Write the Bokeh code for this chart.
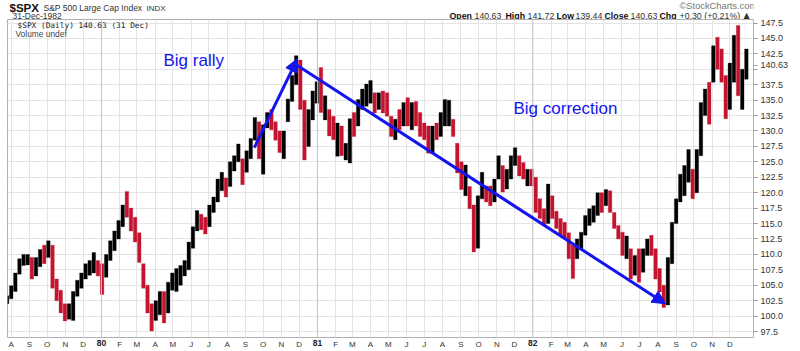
import pandas as pd
from bokeh.plotting import figure
from bokeh.layouts import column
from bokeh.models import (ColumnDataSource, Range1d, FixedTicker, Label, Arrow, NormalHead, Span,
                          DatetimeAxis)
from bokeh.embed import file_html
from bokeh.resources import INLINE

# ---- weekly OHLC (weeks ending Friday) ----
first_week = "1979-07-27"
last_week = "1982-12-31"

high_79 = [103.3, 104.9, 107.0, 109.3, 110.0, 110.0, 109.5, 109.5, 110.8, 111.5, 112.2, 111.5,
           106.0, 104.2, 102.0, 102.0, 104.0, 105.8, 107.0, 108.5, 109.0, 110.3, 109.0]
low_79 = [102.0, 102.8, 104.0, 106.8, 108.2, 108.3, 106.0, 106.5, 108.0, 108.5, 109.5, 104.5,
          102.5, 100.5, 99.2, 99.5, 99.3, 103.2, 104.5, 106.0, 106.6, 107.0, 106.5]
close_79 = [103.0, 104.5, 106.6, 108.7, 109.3, 109.4, 106.8, 109.0, 109.8, 109.5, 111.5, 105.5,
            103.0, 101.3, 100.5, 100.8, 103.5, 105.0, 106.5, 107.5, 108.0, 108.2, 107.5]

high_80 = [108.5, 110.0, 112.2, 113.8, 115.5, 118.0, 120.2, 117.5, 116.0, 113.5, 108.5, 105.0, 102.0,
           102.5, 104.0, 104.0, 105.5, 107.0, 107.7, 108.2, 109.0, 112.0, 114.5, 117.1, 116.5, 116.0,
           118.0, 119.3, 122.2, 123.3, 122.4, 125.0, 126.0, 127.9, 125.5, 126.8, 128.8, 132.2, 131.5,
           131.0, 133.0, 133.5, 131.5, 130.0, 130.0, 135.2, 139.0, 142.2, 141.5, 135.0, 133.5, 136.5]
low_80 = [103.5, 106.3, 109.0, 110.6, 112.5, 114.5, 116.0, 113.8, 112.0, 108.7, 104.5, 100.5, 97.6,
          99.3, 100.2, 98.9, 100.5, 104.2, 104.0, 105.0, 106.5, 107.5, 111.0, 113.8, 114.0, 113.3,
          114.5, 116.8, 118.5, 120.3, 119.3, 121.0, 123.5, 125.0, 121.3, 123.3, 125.5, 128.5, 125.5,
          123.0, 130.5, 130.2, 128.5, 126.5, 125.5, 131.5, 134.8, 137.5, 133.5, 125.3, 127.5, 131.8]
close_80 = [106.5, 109.9, 111.5, 113.5, 115.0, 117.5, 116.8, 115.0, 113.0, 109.5, 106.0, 101.5, 100.5,
            101.8, 102.5, 99.5, 105.0, 106.0, 106.5, 107.5, 108.5, 111.5, 113.8, 116.5, 115.5, 114.2,
            117.5, 118.5, 121.8, 122.0, 120.5, 124.5, 125.5, 126.5, 122.5, 126.0, 128.0, 131.0, 126.0,
            130.5, 132.5, 131.5, 129.5, 127.5, 129.0, 134.5, 138.0, 141.0, 134.0, 127.5, 133.0, 135.5]

high_81 = [138.0, 140.3, 135.7, 133.5, 132.4, 131.3, 130.8, 128.0, 132.0, 133.0, 135.1, 136.8, 137.6,
           138.2, 136.2, 136.2, 136.5, 136.2, 132.4, 131.9, 133.5, 134.6, 135.4, 134.6, 134.8, 133.0,
           131.3, 130.8, 130.8, 131.3, 133.0, 135.1, 135.0, 131.9, 128.0, 125.0, 124.5, 121.0, 118.0,
           119.5, 123.3, 121.1, 121.1, 122.2, 126.0, 124.4, 123.8, 126.0, 127.3, 126.0, 124.9, 123.8]
low_81 = [134.5, 133.0, 131.8, 129.2, 128.6, 125.9, 126.0, 125.3, 124.8, 129.1, 130.8, 133.5, 134.0,
          134.5, 132.9, 133.5, 132.9, 132.4, 129.1, 128.6, 130.2, 130.8, 130.8, 130.2, 130.8, 129.1,
          128.6, 126.4, 126.4, 128.6, 129.1, 130.8, 130.8, 129.1, 123.2, 120.5, 119.5, 117.4, 110.4,
          111.0, 119.0, 118.5, 117.9, 118.5, 122.2, 120.1, 120.6, 122.2, 124.4, 122.7, 122.2, 121.1]
close_81 = [136.5, 134.0, 134.5, 130.5, 129.5, 130.5, 127.0, 127.0, 131.5, 130.5, 134.0, 136.0, 136.5,
            136.5, 134.0, 135.5, 135.0, 133.0, 130.0, 131.5, 131.0, 133.0, 132.0, 133.5, 132.5, 131.0,
            129.5, 128.5, 130.0, 129.5, 131.5, 132.5, 133.5, 130.0, 124.5, 121.5, 121.5, 117.8, 113.0,
            119.0, 121.5, 119.5, 118.5, 122.0, 124.5, 121.0, 122.5, 125.5, 126.0, 123.5, 123.0, 123.0]

high_82 = [123.8, 122.5, 119.0, 117.4, 121.4, 119.5, 117.0, 115.8, 115.2, 113.5, 111.5, 112.5, 113.6,
           116.3, 117.4, 117.9, 120.0, 120.0, 120.5, 120.3, 116.8, 114.7, 113.6, 113.0, 110.9, 109.8,
           110.9, 110.9, 112.5, 113.1, 110.9, 107.7, 105.0, 109.5, 115.2, 119.0, 123.0, 124.4, 127.0,
           123.8, 127.0, 134.6, 136.8, 137.9, 143.8, 145.2, 143.3, 139.0, 141.0, 145.5, 147.1, 140.0, 143.3]
low_82 = [121.1, 116.8, 115.8, 114.7, 115.0, 115.8, 114.2, 113.1, 112.5, 109.3, 106.1, 109.3, 110.9,
          113.1, 114.7, 115.2, 116.3, 116.8, 117.9, 116.8, 114.2, 112.5, 109.8, 109.3, 106.0, 106.6,
          105.5, 107.1, 109.8, 109.8, 106.0, 103.9, 101.4, 101.8, 108.5, 115.0, 118.5, 119.5, 121.7,
          119.0, 120.0, 126.0, 132.5, 131.1, 137.9, 140.0, 137.9, 132.0, 133.5, 137.9, 135.7, 133.5, 138.4]
close_82 = [122.5, 118.0, 116.5, 115.5, 120.5, 117.0, 114.5, 114.0, 113.5, 110.0, 108.5, 111.0, 112.5,
            115.5, 116.0, 116.8, 119.5, 117.0, 119.5, 118.0, 114.8, 113.0, 110.5, 111.5, 107.5, 109.0,
            107.0, 110.5, 111.5, 111.0, 107.5, 104.0, 102.5, 109.0, 114.0, 118.5, 121.0, 123.0, 123.5,
            121.0, 126.5, 133.0, 135.5, 134.0, 142.0, 141.0, 139.0, 134.0, 138.5, 143.0, 137.0, 138.5, 140.63]

high = high_79 + high_80 + high_81 + high_82
low = low_79 + low_80 + low_81 + low_82
close = close_79 + close_80 + close_81 + close_82

# axis labels
month_letters = ["J", "F", "M", "A", "M", "J", "J", "A", "S", "O", "N", "D"]
year_labels = {1980: "80", 1981: "81", 1982: "82"}
price_ticks = [97.5, 100.0, 102.5, 105.0, 107.5, 110.0, 112.5, 115.0, 117.5, 120.0, 122.5, 125.0,
               127.5, 130.0, 132.5, 135.0, 137.5, 140.0, 142.5, 145.0, 147.5]
last_close = 140.63

# annotation anchors (date, price)
rally_start = ("1980-09-16", 127.3)
rally_top = ("1980-11-28", 141.7)
corr_start = ("1980-11-28", 140.6)
corr_end = ("1982-08-14", 102.0)

BLUE = "#1414ee"
RED = "#c41430"


def ms(d):
    return pd.Timestamp(d).value // 10**6


weeks = pd.date_range(first_week, last_week, freq="W-FRI")
n = min(len(weeks), len(high), len(low), len(close))
xs = [ms(w - pd.Timedelta(days=2)) for w in weeks[:n]]
colors = []
prev = None
for c in close[:n]:
    colors.append("#000000" if (prev is None or c >= prev) else RED)
    prev = c

src = ColumnDataSource(dict(x=xs, high=high[:n], low=low[:n], color=colors))

HEAD_H = 19
FL, FB = 7, 337  # frame left / bottom in page px

# ---------------- header strip ----------------
head = figure(width=800, height=HEAD_H, output_backend="svg", toolbar_location=None,
              x_range=Range1d(0, 800), y_range=Range1d(0, HEAD_H),
              x_axis_location=None, y_axis_location=None,
              min_border_left=0, min_border_right=0, min_border_top=0, min_border_bottom=0)
head.outline_line_color = None
head.grid.visible = False
head.background_fill_color = "white"
head.border_fill_color = "white"


def hlab(text, cx, cy, size, bold=False, color="#333333", font="Liberation Sans"):
    head.add_layout(Label(x=cx, y=HEAD_H - cy, x_units="screen", y_units="screen", text=text,
                          text_font=font, text_font_size=f"{size}px",
                          text_font_style="bold" if bold else "normal", text_color=color,
                          text_align="left", text_baseline="middle"))


hlab("$SPX", 2, 7, 11.5, bold=True, color="#111111")
hlab("S&P 500 Large Cap Index", 36, 7.5, 8.5)
hlab("INDX", 139, 7.5, 8)
hlab("31-Dec-1982", 5, 15, 8.5)
hlab("\u00a9StockCharts.com", 672, 5, 9.3, color="#777777")
for t, x0, b in [("Open", 442, True), ("140.63", 467, False), ("High", 498, True), ("141.72", 520, False),
                 ("Low", 549, True), ("139.44", 568, False), ("Close", 597, True), ("140.63", 623, False),
                 ("Chg", 652, True), ("+0.30 (+0.21%)", 672, False)]:
    hlab(t, x0, 15, 8.8, bold=b, color="#111111" if b else "#333333")
hlab("\u25b2", 736, 14.5, 8, font="DejaVu Sans")

# ---------------- main chart ----------------
p = figure(width=800, height=351 - HEAD_H, output_backend="svg", toolbar_location=None,
           x_axis_type="datetime", y_axis_location="right",
           x_range=Range1d(ms("1979-07-25 17:00"), ms("1983-01-10 02:00")),
           y_range=Range1d(96.53, 148.07),
           min_border_left=FL, min_border_right=47, min_border_top=0, min_border_bottom=14)
p.background_fill_color = "white"
p.border_fill_color = "white"
p.outline_line_color = "#b0b0b0"

month_starts = pd.date_range("1979-08-01", "1982-12-01", freq="MS")
mticks = [ms(d) for d in month_starts]
overrides = {}
for d, t in zip(month_starts, mticks):
    overrides[t] = "" if d.month == 1 else month_letters[d.month - 1]

xa = p.xaxis[0]
xa.ticker = FixedTicker(ticks=mticks)
xa.major_label_overrides = overrides
xa.axis_line_color = None
xa.major_tick_out = 0
xa.major_tick_in = 0
xa.major_tick_line_color = None
xa.minor_tick_line_color = None
xa.major_label_standoff = 2
xa.major_label_text_font = "Liberation Sans"
xa.major_label_text_font_size = "8px"
xa.major_label_text_color = "#333333"

# bold year labels on a second axis, pulled up onto the month-label row
yticks_ms = [ms(f"{yr}-01-01") for yr in year_labels]
year_axis = DatetimeAxis(ticker=FixedTicker(ticks=yticks_ms),
                         major_label_overrides={t: year_labels[yr] for t, yr in zip(yticks_ms, year_labels)},
                         axis_line_color=None, major_tick_line_color=None, minor_tick_line_color=None,
                         major_tick_out=0, major_tick_in=0, major_label_standoff=-12,
                         major_label_text_font="Liberation Sans", major_label_text_font_size="8.5px",
                         major_label_text_font_style="bold", major_label_text_color="#222222")
p.add_layout(year_axis, "below")

ya = p.yaxis[0]
ya.ticker = FixedTicker(ticks=price_ticks + [last_close])
yover = {t: f"{t:.1f}" for t in price_ticks}
yover[140.0] = ""
yover[last_close] = f"{last_close:.2f}"
ya.major_label_overrides = yover
ya.axis_line_color = None
ya.major_tick_out = 4
ya.major_tick_in = 0
ya.major_tick_line_color = "#999999"
ya.minor_tick_line_color = None
ya.major_label_standoff = 3
ya.major_label_text_font = "Liberation Sans"
ya.major_label_text_font_size = "9px"
ya.major_label_text_color = "#333333"

p.xgrid.ticker = FixedTicker(ticks=mticks)
p.ygrid.ticker = FixedTicker(ticks=price_ticks)
p.xgrid.grid_line_color = "#e4e4e4"
p.ygrid.grid_line_color = "#e4e4e4"

for yr in year_labels:
    p.add_layout(Span(location=ms(f"{yr}-01-01"), dimension="height", line_color="#c4c4c4", line_width=1))

p.vbar(x="x", width=6.0 * 86400000, top="high", bottom="low", fill_color="color",
       line_color="color", line_width=0.3, source=src)

# arrows
p.add_layout(Arrow(end=NormalHead(size=13, fill_color=BLUE, line_color=BLUE),
                   x_start=ms(rally_start[0]), y_start=rally_start[1],
                   x_end=ms(rally_top[0]), y_end=rally_top[1],
                   line_color=BLUE, line_width=3))
p.add_layout(Arrow(end=NormalHead(size=13, fill_color=BLUE, line_color=BLUE),
                   x_start=ms(corr_start[0]), y_start=corr_start[1],
                   x_end=ms(corr_end[0]), y_end=corr_end[1],
                   line_color=BLUE, line_width=3))


def lab(text, cx, cy, size, bold=False, color="#222222", font="Liberation Sans", align="left"):
    p.add_layout(Label(x=cx - FL, y=FB - cy, x_units="screen", y_units="screen", text=text,
                       text_font=font, text_font_size=f"{size}px",
                       text_font_style="bold" if bold else "normal", text_color=color,
                       text_align=align, text_baseline="middle"))


# in-plot legend text
lab("$SPX (Daily) 140.63 (31 Dec)", 17, 25, 7.8, color="#222222", font="DejaVu Sans Mono")
lab("Volume undef", 15, 33, 8.4, color="#444444")

# annotations
lab("Big rally", 163, 60, 17, color=BLUE)
lab("Big correction", 513, 108, 17, color=BLUE)

layout = column(head, p, spacing=0)
open("out.html", "w").write(file_html(layout, INLINE))
